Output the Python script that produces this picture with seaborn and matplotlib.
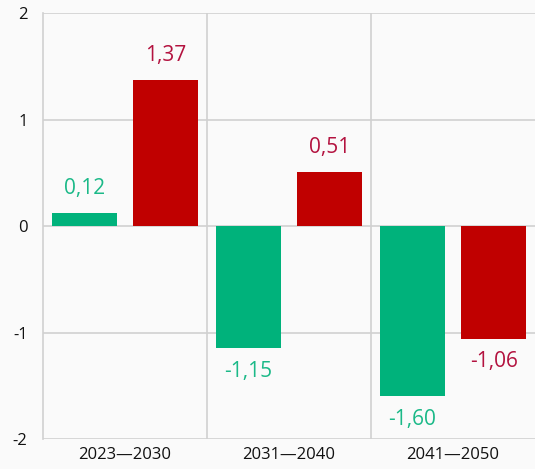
import seaborn as sns
import pandas as pd
import matplotlib.pyplot as plt

periods = ["2023\u20142030", "2031\u20142040", "2041\u20142050"]
green_vals = [0.12, -1.15, -1.60]
red_vals = [1.37, 0.51, -1.06]
series = ["green", "red"]

bar_colors = {"green": "#00b27b", "red": "#c00000"}
text_colors = {"green": "#1bb988", "red": "#b3123f"}

rows = []
for i, p in enumerate(periods):
    rows.append({"Period": p, "Series": "green", "Value": green_vals[i]})
    rows.append({"Period": p, "Series": "red", "Value": red_vals[i]})
df = pd.DataFrame(rows)

sns.set_style("white")
plt.rcParams["font.family"] = ["Open Sans", "DejaVu Sans"]

fig = plt.figure(figsize=(5.35, 4.69), dpi=100, facecolor="#fafafa")
ax = fig.add_axes([0.080, 0.064, 0.920, 0.908])
ax.set_facecolor("#fafafa")

sns.barplot(data=df, x="Period", y="Value", hue="Series", hue_order=series,
            palette=bar_colors, width=0.99, gap=0.2, legend=False, ax=ax,
            saturation=1, errorbar=None, linewidth=0, zorder=3)

# value labels
for cont, name in zip(ax.containers, series):
    for bar in cont:
        v = bar.get_height()
        x = bar.get_x() + bar.get_width() / 2
        lbl = f"{v:.2f}".replace(".", ",")
        if v >= 0:
            ax.annotate(lbl, (x, v), xytext=(0, 10), textcoords="offset points",
                        ha="center", va="bottom", fontsize=15, color=text_colors[name])
        else:
            ax.annotate(lbl, (x, v), xytext=(0, -9), textcoords="offset points",
                        ha="center", va="top", fontsize=15, color=text_colors[name])

ax.set_ylim(-2, 2)
ax.set_xlim(-0.5, 2.5)
ax.set_yticks([-2, -1, 0, 1, 2])
ax.set_yticklabels(["-2", "-1", "0", "1", "2"])
for y in [-2, -1, 0, 1, 2]:
    ax.axhline(y, color="#d0d0d0", lw=1.2, zorder=1)
for x in [0.5, 1.5]:
    ax.axvline(x, color="#d0d0d0", lw=1.2, zorder=1)

for s in ["top", "right", "bottom"]:
    ax.spines[s].set_visible(False)
ax.spines["left"].set_color("#d0d0d0")
ax.spines["left"].set_linewidth(1.2)

ax.tick_params(axis="both", length=0, labelsize=12, colors="#111111")
ax.tick_params(axis="y", pad=11)
ax.tick_params(axis="x", pad=6)
ax.set_xlabel("")
ax.set_ylabel("")

plt.savefig("out.png", dpi=100, facecolor=fig.get_facecolor())
